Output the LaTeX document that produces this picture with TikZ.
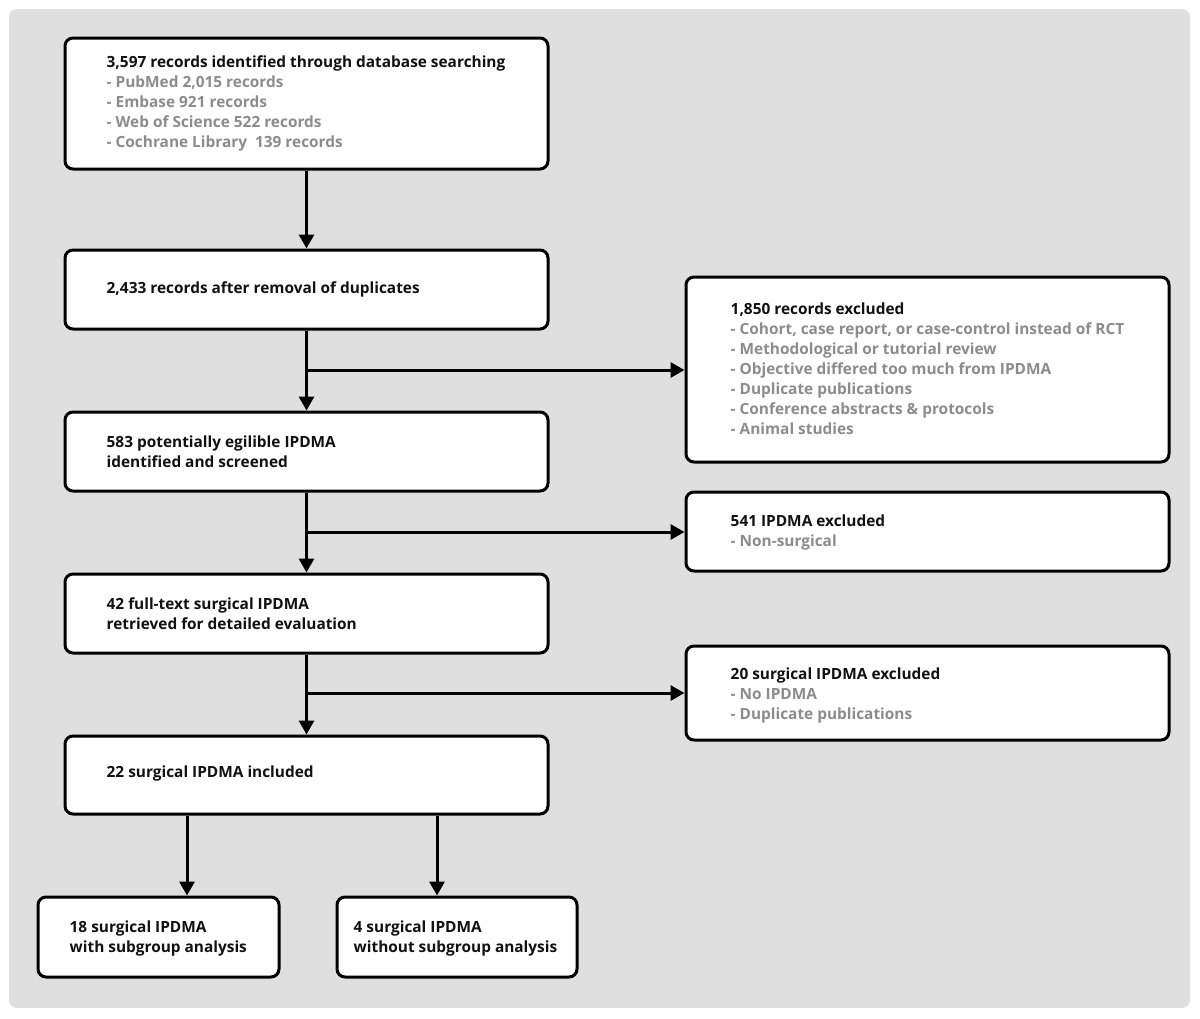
\documentclass[tikz,border=0pt]{standalone}
\usepackage{fontspec}
\setmainfont{Open Sans}
\usetikzlibrary{arrows.meta}
\definecolor{bggray}{HTML}{DFDFDF}
\definecolor{subgray}{HTML}{8C8C8C}
\definecolor{txtblack}{HTML}{111111}
\tikzset{
  x=1pt,y=-1pt,
  box/.style={draw=black,line width=3pt,rounded corners=8pt,fill=white,inner sep=0pt},
  lbl/.style={anchor=west,align=left,inner sep=0pt,font=\fontsize{15.4}{20}\selectfont\bfseries,text=txtblack},
  arr/.style={line width=3pt,-{Triangle[length=14pt,width=15pt]}},
}
\newcommand{\sub}[1]{\textcolor{subgray}{#1}}
\begin{document}
\begin{tikzpicture}
\useasboundingbox (0,0) rectangle (1200,1018);
\fill[bggray,rounded corners=8pt] (9,9) rectangle (1190,1008);
% left column boxes
\node[box,minimum width=483pt,minimum height=131pt] (b1) at (306.5,103.5) {};
\node[box,minimum width=483pt,minimum height=79pt] (b2) at (306.5,289.5) {};
\node[box,minimum width=483pt,minimum height=79pt] (b3) at (306.5,451.5) {};
\node[box,minimum width=483pt,minimum height=79pt] (b4) at (306.5,613.5) {};
\node[box,minimum width=483pt,minimum height=78pt] (b5) at (306.5,775) {};
\node[box,minimum width=241pt,minimum height=80pt] (b6) at (158.5,937) {};
\node[box,minimum width=240pt,minimum height=80pt] (b7) at (457,937) {};
% right boxes
\node[box,minimum width=483pt,minimum height=185pt] (ra) at (927.5,369.5) {};
\node[box,minimum width=483pt,minimum height=79pt] (rb) at (927.5,531.5) {};
\node[box,minimum width=483pt,minimum height=94pt] (rc) at (927.5,693) {};
% texts
\node[lbl] (t1) at ([xshift=43pt]b1.west) {3,597 records identified through database searching\\
\sub{- PubMed 2,015 records}\\
\sub{- Embase 921 records}\\
\sub{- Web of Science 522 records}\\
\sub{- Cochrane Library\ \ 139 records}};
\node[lbl] (t2) at ([xshift=43pt]b2.west) {2,433 records after removal of duplicates};
\node[lbl] (t3) at ([xshift=43pt]b3.west) {583 potentially egilible IPDMA\\identified and screened};
\node[lbl] (t4) at ([xshift=43pt]b4.west) {42 full-text surgical IPDMA\\retrieved for detailed evaluation};
\node[lbl] (t5) at ([xshift=43pt,yshift=2pt]b5.west) {22 surgical IPDMA included};
\node[lbl] (t6) at ([xshift=33pt,yshift=-1pt]b6.west) {18 surgical IPDMA\\with subgroup analysis};
\node[lbl] (t7) at ([xshift=18pt,yshift=-1pt]b7.west) {4 surgical IPDMA\\without subgroup analysis};
\node[lbl] (ta) at ([xshift=46pt,yshift=1pt]ra.west) {1,850 records excluded\\
\sub{- Cohort, case report, or case-control instead of RCT}\\
\sub{- Methodological or tutorial review}\\
\sub{- Objective differed too much from IPDMA}\\
\sub{- Duplicate publications}\\
\sub{- Conference abstracts \& protocols}\\
\sub{- Animal studies}};
\node[lbl] (tb) at ([xshift=46pt,yshift=-1pt]rb.west) {541 IPDMA excluded\\\sub{- Non-surgical}};
\node[lbl] (tc) at ([xshift=46pt,yshift=-2pt]rc.west) {20 surgical IPDMA excluded\\\sub{- No IPDMA}\\\sub{- Duplicate publications}};
% connectors
\coordinate (j1) at (307,370);
\coordinate (j2) at (307,532);
\coordinate (j3) at (307,693);
\draw[arr] (b1.south) -- (b2.north);
\draw[arr] (b2.south) -- (b3.north);
\draw[arr] (b3.south) -- (b4.north);
\draw[arr] (b4.south) -- (b5.north);
\draw[arr] (j1) -- (ra.west |- j1);
\draw[arr] (j2) -- (rb.west |- j2);
\draw[arr] (j3) -- (rc.west |- j3);
\draw[arr] (b5.south -| 187,0) -- (187,0 |- b6.north);
\draw[arr] (b5.south -| 437,0) -- (437,0 |- b7.north);
\end{tikzpicture}
\end{document}
